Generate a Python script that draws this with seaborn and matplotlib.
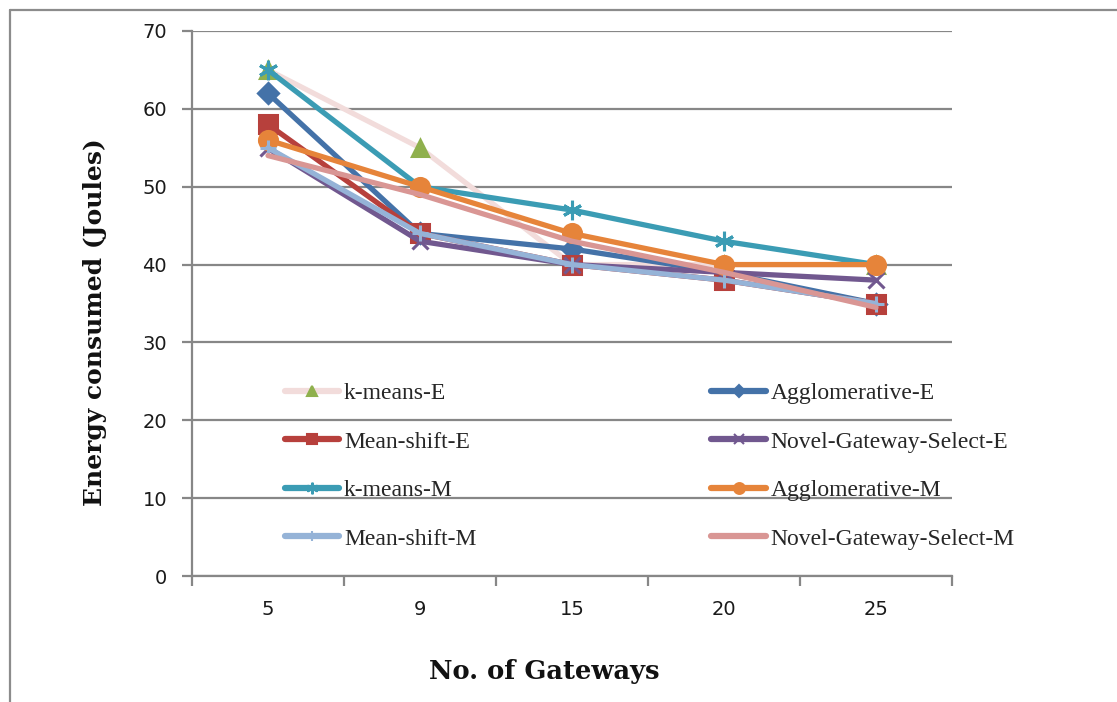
import matplotlib
matplotlib.use("Agg")
import matplotlib.pyplot as plt
from matplotlib.lines import Line2D
import numpy as np
import pandas as pd
import seaborn as sns

# Number of gateways (categorical x axis)
gateways = ["5", "9", "15", "20", "25"]

# Energy consumed (Joules) per method
kmeans_e = [65, 55, 40, 40, 40]
agglo_e = [62, 44, 42, 39, 35]
meanshift_e = [58, 44, 40, 38, 35]
novel_e = [55, 43, 40, 39, 38]
kmeans_m = [65, 50, 47, 43, 40]
agglo_m = [56, 50, 44, 40, 40]
meanshift_m = [55, 44, 40, 38, 35]
novel_m = [54, 49, 43, 39, 34.5]

series_names = [
    "k-means-E", "Agglomerative-E", "Mean-shift-E", "Novel-Gateway-Select-E",
    "k-means-M", "Agglomerative-M", "Mean-shift-M", "Novel-Gateway-Select-M",
]
series_values = [kmeans_e, agglo_e, meanshift_e, novel_e,
                 kmeans_m, agglo_m, meanshift_m, novel_m]

# style per series: line colour, marker, marker face colour, marker size
styles = {
    "k-means-E": ("#F2DCDB", "^", "#8FB04D", 12),
    "Agglomerative-E": ("#4472A8", "D", "#4472A8", 10),
    "Mean-shift-E": ("#B7403C", "s", "#B7403C", 13),
    "Novel-Gateway-Select-E": ("#71588F", "x", "#71588F", 11),
    "k-means-M": ("#3B9CB4", (6, 2, 0), "#3B9CB4", 14),
    "Agglomerative-M": ("#E6843A", "o", "#E6843A", 13),
    "Mean-shift-M": ("#95B3D7", "+", "#95B3D7", 12),
    "Novel-Gateway-Select-M": ("#D99694", None, "#D99694", 0),
}

rows = []
for name, vals in zip(series_names, series_values):
    for i, v in enumerate(vals):
        rows.append({"series": name, "pos": i, "energy": v})
df = pd.DataFrame(rows)

sns.set_theme(style="white")
plt.rcParams["font.family"] = ["DejaVu Sans"]

fig = plt.figure(figsize=(11.17, 7.02), dpi=100)
ax = fig.add_axes([192 / 1117, 1 - 576 / 702, 760 / 1117, 545 / 702])

grey = "#878787"
for name in series_names:
    color, marker, mfc, ms = styles[name]
    sub = df[df["series"] == name]
    kw = dict(linewidth=3.8, color=color)
    if marker is not None:
        kw.update(marker=marker, markersize=ms, markerfacecolor=mfc,
                  markeredgecolor=mfc, markeredgewidth=2.2)
    sns.lineplot(data=sub, x="pos", y="energy", ax=ax, legend=False, **kw)

ax.set_xlim(-0.5, 4.5)
ax.set_ylim(0, 70)
ax.set_yticks(np.arange(0, 71, 10))
ax.set_xticks(range(len(gateways)))
ax.set_xticklabels(gateways)
ax.set_xticks(np.arange(-0.5, 4.6, 1), minor=True)
ax.yaxis.grid(True, color=grey, linewidth=1.6)
ax.set_axisbelow(True)

for s in ["top", "right"]:
    ax.spines[s].set_visible(False)
for s in ["left", "bottom"]:
    ax.spines[s].set_color(grey)
    ax.spines[s].set_linewidth(1.6)

ax.tick_params(axis="y", which="major", length=7, width=1.6, color=grey,
               direction="out", pad=11, labelsize=14, labelcolor="#1a1a1a", left=True)
ax.tick_params(axis="x", which="major", length=0, pad=17, labelsize=14,
               labelcolor="#1a1a1a")
ax.tick_params(axis="x", which="minor", length=7, width=1.6, color=grey,
               direction="out", bottom=True)

ax.set_xlabel("No. of Gateways", family="DejaVu Serif", fontweight="bold",
              fontsize=18.5, color="#111111")
ax.set_ylabel("Energy consumed (Joules)", family="DejaVu Serif",
              fontweight="bold", fontsize=18, color="#111111")
ax.xaxis.set_label_coords(0.463, -0.176)
ax.yaxis.set_label_coords(-0.128, 0.466)
ax.xaxis.label.set_verticalalignment("center")
ax.yaxis.label.set_verticalalignment("center")

# legend: two columns, filled row by row
handles = {}
for name in series_names:
    color, marker, mfc, ms = styles[name]
    h = Line2D([], [], color=color, linewidth=4.5,
               marker=marker if marker is not None else None,
               markersize=ms * 0.6, markerfacecolor=mfc, markeredgecolor=mfc,
               markeredgewidth=1.5)
    handles[name] = h
col_order = [series_names[i] for i in (0, 2, 4, 6, 1, 3, 5, 7)]
leg = ax.legend([handles[n] for n in col_order], col_order, ncol=2,
                loc="upper left", bbox_to_anchor=(0.11, 0.372), frameon=False,
                prop={"family": "Liberation Serif", "size": 17},
                handlelength=2.3, handletextpad=0.2, columnspacing=9.95,
                labelspacing=1.14, borderaxespad=0)

# outer chart border
fig.add_artist(Line2D([10 / 1117, 10 / 1117], [0, 1 - 10 / 702],
                      transform=fig.transFigure, color="#8c8c8c", linewidth=1.6))
fig.add_artist(Line2D([10 / 1117, 1], [1 - 10 / 702, 1 - 10 / 702],
                      transform=fig.transFigure, color="#8c8c8c", linewidth=1.6))

fig.savefig("out.png", dpi=100)
